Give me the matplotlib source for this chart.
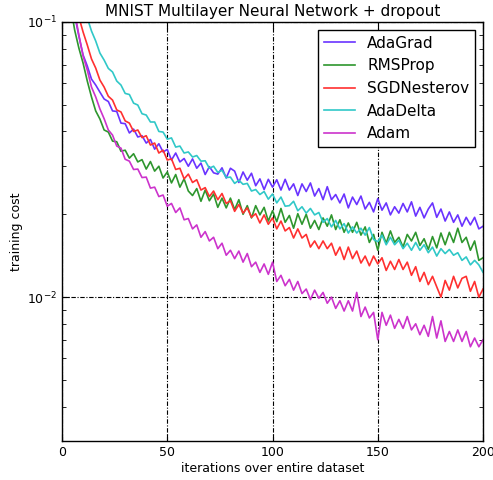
import numpy as np
import matplotlib
matplotlib.use('Agg')
matplotlib.rcParams['font.family'] = 'DejaVu Sans'
import matplotlib.pyplot as plt

# iterations over the dataset (every 2nd epoch)
epochs = np.arange(2, 201, 2)

adagrad = [0.142, 0.125, 0.106, 0.0889, 0.0759, 0.0692, 0.0620, 0.0590, 0.0556, 0.0525,
           0.0514, 0.0475, 0.0473, 0.0429, 0.0427, 0.0395, 0.0408, 0.0382, 0.0386, 0.0363,
           0.0374, 0.0345, 0.0361, 0.0337, 0.0344, 0.0315, 0.0334, 0.0310, 0.0319, 0.0299,
           0.0318, 0.0294, 0.0307, 0.0279, 0.0298, 0.0283, 0.0280, 0.0295, 0.0271, 0.0294,
           0.0287, 0.0261, 0.0285, 0.0266, 0.0282, 0.0254, 0.0269, 0.0246, 0.0268, 0.0251,
           0.0267, 0.0245, 0.0268, 0.0245, 0.0258, 0.0234, 0.0258, 0.0242, 0.0260, 0.0233,
           0.0248, 0.0226, 0.0252, 0.0226, 0.0236, 0.0220, 0.0237, 0.0211, 0.0231, 0.0217,
           0.0233, 0.0209, 0.0221, 0.0204, 0.0228, 0.0207, 0.0220, 0.0199, 0.0213, 0.0202,
           0.0219, 0.0204, 0.0222, 0.0197, 0.0212, 0.0194, 0.0209, 0.0220, 0.0195, 0.0209,
           0.0189, 0.0204, 0.0187, 0.0199, 0.0181, 0.0195, 0.0183, 0.0195, 0.0177, 0.0181]

rmsprop = [0.148, 0.1153, 0.0935, 0.0804, 0.0709, 0.0610, 0.0534, 0.0475, 0.0444, 0.0405,
           0.0398, 0.0369, 0.0367, 0.0339, 0.0342, 0.0320, 0.0332, 0.0310, 0.0316, 0.0292,
           0.0311, 0.0287, 0.0299, 0.0271, 0.0285, 0.0260, 0.0279, 0.0251, 0.0269, 0.0243,
           0.0234, 0.0248, 0.0223, 0.0245, 0.0224, 0.0237, 0.0212, 0.0229, 0.0211, 0.0229,
           0.0208, 0.0226, 0.0200, 0.0215, 0.0194, 0.0215, 0.0199, 0.0212, 0.0189, 0.0206,
           0.0188, 0.0210, 0.0187, 0.0198, 0.0178, 0.0201, 0.0184, 0.0200, 0.0178, 0.0190,
           0.0176, 0.0194, 0.0181, 0.0199, 0.0176, 0.0191, 0.0172, 0.0186, 0.0172, 0.0187,
           0.0168, 0.0180, 0.0158, 0.0169, 0.0148, 0.0172, 0.0157, 0.0174, 0.0158, 0.0165,
           0.0152, 0.0169, 0.0160, 0.0172, 0.0154, 0.0163, 0.0149, 0.0166, 0.0151, 0.0171,
           0.0155, 0.0172, 0.0158, 0.0178, 0.0158, 0.0165, 0.0148, 0.0160, 0.0136, 0.0139]

sgd_nesterov = [0.168, 0.142, 0.120, 0.1043, 0.0920, 0.0825, 0.0734, 0.0680, 0.0615, 0.0580,
                0.0537, 0.0520, 0.0479, 0.0471, 0.0437, 0.0429, 0.0400, 0.0405, 0.0380, 0.0386,
                0.0357, 0.0363, 0.0334, 0.0342, 0.0315, 0.0318, 0.0291, 0.0294, 0.0269, 0.0280,
                0.0261, 0.0267, 0.0245, 0.0250, 0.0232, 0.0243, 0.0226, 0.0238, 0.0219, 0.0224,
                0.0205, 0.0217, 0.0202, 0.0211, 0.0195, 0.0201, 0.0186, 0.0199, 0.0184, 0.0194,
                0.0177, 0.0189, 0.0174, 0.0179, 0.0164, 0.0177, 0.0164, 0.0169, 0.0152, 0.0160,
                0.0150, 0.0160, 0.0150, 0.0157, 0.0142, 0.0152, 0.0137, 0.0152, 0.0138, 0.0147,
                0.0133, 0.0141, 0.0130, 0.0141, 0.0132, 0.0139, 0.0125, 0.0135, 0.0126, 0.0137,
                0.0126, 0.0134, 0.0120, 0.0129, 0.0114, 0.0123, 0.0111, 0.0119, 0.0109, 0.0100,
                0.0115, 0.0106, 0.0119, 0.0108, 0.0117, 0.0119, 0.0105, 0.0114, 0.0100, 0.0107]

adadelta = [0.255, 0.207, 0.175, 0.148, 0.125, 0.1034, 0.0927, 0.0853, 0.0771, 0.0727,
            0.0678, 0.0658, 0.0610, 0.0590, 0.0550, 0.0545, 0.0507, 0.0499, 0.0464, 0.0459,
            0.0433, 0.0433, 0.0400, 0.0398, 0.0375, 0.0379, 0.0351, 0.0354, 0.0334, 0.0337,
            0.0323, 0.0327, 0.0312, 0.0313, 0.0294, 0.0299, 0.0284, 0.0289, 0.0272, 0.0273,
            0.0259, 0.0266, 0.0257, 0.0259, 0.0243, 0.0246, 0.0236, 0.0242, 0.0227, 0.0237,
            0.0220, 0.0231, 0.0214, 0.0215, 0.0223, 0.0206, 0.0213, 0.0202, 0.0210, 0.0199,
            0.0203, 0.0187, 0.0193, 0.0180, 0.0190, 0.0177, 0.0185, 0.0171, 0.0180, 0.0171,
            0.0178, 0.0168, 0.0179, 0.0162, 0.0159, 0.0168, 0.0155, 0.0165, 0.0155, 0.0161,
            0.0150, 0.0157, 0.0148, 0.0158, 0.0148, 0.0155, 0.0145, 0.0152, 0.0141, 0.0150,
            0.0144, 0.0149, 0.0142, 0.0145, 0.0136, 0.0140, 0.0131, 0.0136, 0.0131, 0.0123]

adam = [0.148, 0.125, 0.1087, 0.0897, 0.0752, 0.0669, 0.0580, 0.0534, 0.0483, 0.0445,
        0.0405, 0.0388, 0.0354, 0.0348, 0.0317, 0.0312, 0.0291, 0.0292, 0.0272, 0.0273,
        0.0249, 0.0251, 0.0232, 0.0235, 0.0214, 0.0219, 0.0203, 0.0211, 0.0191, 0.0193,
        0.0177, 0.0183, 0.0165, 0.0173, 0.0160, 0.0165, 0.0150, 0.0157, 0.0142, 0.0148,
        0.0138, 0.0147, 0.0134, 0.0144, 0.0129, 0.0134, 0.0123, 0.0132, 0.0121, 0.0134,
        0.0114, 0.0120, 0.0110, 0.0116, 0.0106, 0.0114, 0.0103, 0.0107, 0.0098, 0.0106,
        0.0099, 0.0104, 0.0095, 0.0100, 0.0091, 0.0097, 0.0089, 0.0097, 0.0089, 0.0104,
        0.0085, 0.0092, 0.0084, 0.0088, 0.0070, 0.0088, 0.0079, 0.0086, 0.0077, 0.0083,
        0.0077, 0.0085, 0.0076, 0.0080, 0.0073, 0.0079, 0.0072, 0.0085, 0.0071, 0.0082,
        0.0069, 0.0075, 0.0069, 0.0076, 0.0069, 0.0075, 0.0066, 0.0071, 0.0066, 0.0070]

labels = ['AdaGrad', 'RMSProp', 'SGDNesterov', 'AdaDelta', 'Adam']
colors = ['#6a33ff', '#2e962e', '#ff3030', '#30c8c8', '#cc33cc']
series = [adagrad, rmsprop, sgd_nesterov, adadelta, adam]

fig = plt.figure(figsize=(4.93, 4.80), dpi=100)
ax = fig.add_axes([0.1258, 0.0813, 0.854, 0.8729])

for vals, lab, col in zip(series, labels, colors):
    ax.plot(epochs, vals, color=col, lw=1.2, label=lab)

ax.set_yscale('log')
ax.set_xlim(0, 200)
ax.set_ylim(0.003, 0.1)
ax.set_xticks([0, 50, 100, 150, 200])

ax.grid(True, which='major', color='k', linestyle=(0, (4, 1.5, 1, 1.5)), lw=0.8)
ax.tick_params(which='both', direction='in', top=True, right=True, labelsize=9)
ax.tick_params(which='major', length=5)
ax.tick_params(which='minor', length=3)
for s in ax.spines.values():
    s.set_linewidth(1.0)

ax.set_title('MNIST Multilayer Neural Network + dropout', fontsize=11, pad=4)
ax.set_xlabel('iterations over entire dataset', fontsize=9, labelpad=2)
ax.set_ylabel('training cost', fontsize=9)
ax.yaxis.set_label_coords(-0.093, 0.5)

leg = ax.legend(loc='upper right', fontsize=11, fancybox=False, framealpha=1,
                edgecolor='k', handlelength=2.0, borderaxespad=0.5, labelspacing=0.5)
leg.get_frame().set_linewidth(1.0)

plt.savefig('out.png', dpi=100)
